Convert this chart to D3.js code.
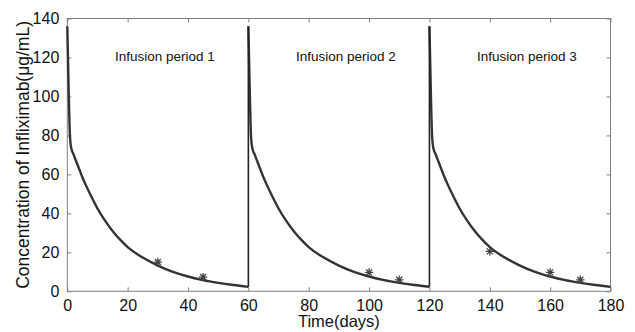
<!DOCTYPE html>
<html>
<head>
<meta charset="utf-8">
<script src="https://cdn.jsdelivr.net/npm/d3@7"></script>
<style>
  body { margin: 0; background: #fff; }
  svg { font-family: "Liberation Sans", Arial, sans-serif; }
</style>
</head>
<body>
<div id="chart"></div>
<script>
// concentration profile of one infusion period (days after infusion, ug/mL)
const profileDays = [0, 0.5, 0.9, 1.3, 2, 3, 4, 5, 6, 8, 10, 12.5, 15, 17.5, 20, 25, 30, 35, 40, 45, 50, 55, 60]
const profileConc = [136, 100, 79, 73.5, 70.5, 66.5, 62.5, 58.5, 55, 48.5, 42.5, 36.3, 31, 26.5, 22.7, 17.3, 13.2, 10, 7.6, 5.7, 4.3, 3.2, 2.3]

const periodStarts = [0, 60, 120]
const periodLabels = ["Infusion period 1", "Infusion period 2", "Infusion period 3"]

// observed concentrations (asterisks)
const obsDays = [30, 45, 100, 110, 140, 160, 170]
const obsConc = [15, 7.3, 9.7, 5.9, 20.5, 9.7, 5.9]

const xTicks = [0, 20, 40, 60, 80, 100, 120, 140, 160, 180]
const yTicks = [0, 20, 40, 60, 80, 100, 120, 140]

const width = 635
const height = 332
const margin = {top: 18.5, right: 24.5, bottom: 40.7, left: 67.3}

const svg = d3.select("#chart")
    .append("svg")
    .attr("width", width)
    .attr("height", height)

const x = d3.scaleLinear()
    .domain([0, 180])
    .range([margin.left, width - margin.right])

const y = d3.scaleLinear()
    .domain([0, 140])
    .range([height - margin.bottom, margin.top])

const axisColor = "#808080"

// frame
svg.append("rect")
    .attr("x", x(0))
    .attr("y", y(140))
    .attr("width", x(180) - x(0))
    .attr("height", y(0) - y(140))
    .attr("fill", "none")
    .attr("stroke", axisColor)
    .attr("stroke-width", 1)

function styleAxis(g) {
    g.select(".domain").remove()
    g.selectAll(".tick line").attr("stroke", axisColor)
    g.selectAll(".tick text")
        .attr("fill", "#111")
        .attr("font-size", 16)
        .attr("font-family", "Liberation Sans, Arial, sans-serif")
}

// bottom and top axes, ticks inward
svg.append("g")
    .attr("transform", `translate(0,${y(0)})`)
    .call(d3.axisBottom(x).tickValues(xTicks).tickSize(-4).tickPadding(8))
    .call(styleAxis)

svg.append("g")
    .attr("transform", `translate(0,${y(140)})`)
    .call(d3.axisTop(x).tickValues(xTicks).tickSize(-4).tickFormat(""))
    .call(styleAxis)

svg.append("g")
    .attr("transform", `translate(${x(0)},0)`)
    .call(d3.axisLeft(y).tickValues(yTicks).tickSize(-4).tickPadding(8))
    .call(styleAxis)

svg.append("g")
    .attr("transform", `translate(${x(180)},0)`)
    .call(d3.axisRight(y).tickValues(yTicks).tickSize(-4).tickFormat(""))
    .call(styleAxis)

// model curve over the three periods
const curveData = []
periodStarts.forEach(s => {
    profileDays.forEach((d, i) => curveData.push({t: s + d, c: profileConc[i], p: s}))
})

const line = d3.line()
    .x(d => x(d.t))
    .y(d => y(d.c))
    .curve(d3.curveMonotoneX)

periodStarts.forEach((s, i) => {
    const seg = curveData.filter(d => d.p == s)
    svg.append("path")
        .datum(seg)
        .attr("fill", "none")
        .attr("stroke", "#333")
        .attr("stroke-width", 2.4)
        .attr("d", line)
    // jump from the end of the previous period
    if (i > 0) {
        const prev = curveData.filter(d => d.p == periodStarts[i - 1])
        svg.append("line")
            .attr("x1", x(prev[prev.length - 1].t))
            .attr("y1", y(prev[prev.length - 1].c))
            .attr("x2", x(seg[0].t))
            .attr("y2", y(seg[0].c))
            .attr("stroke", "#222")
            .attr("stroke-width", 1.6)
    }
})

// observed points drawn as asterisks
const pts = svg.append("g")
    .selectAll("g")
    .data(obsDays)
    .join("g")
    .attr("transform", (d, i) => `translate(${x(d)},${y(obsConc[i])})`)

pts.append("path")
    .attr("d", "M0,-4.2V4.2M-4.2,0H4.2M-3,-3L3,3M-3,3L3,-3")
    .attr("stroke", "#444")
    .attr("stroke-width", 1.3)
    .attr("fill", "none")

// period labels
svg.append("g")
    .selectAll("text")
    .data(periodLabels)
    .join("text")
    .attr("x", (d, i) => x(periodStarts[i] + 30) + 7)
    .attr("y", 60.5)
    .attr("text-anchor", "middle")
    .attr("font-size", 13.5)
    .attr("fill", "#111")
    .text(d => d)

// axis titles
svg.append("text")
    .attr("x", x(90))
    .attr("y", 327)
    .attr("text-anchor", "middle")
    .attr("font-size", 16.5)
    .attr("fill", "#111")
    .text("Time(days)")

svg.append("text")
    .attr("transform", `translate(29,${(y(0) + y(140)) / 2}) rotate(-90)`)
    .attr("text-anchor", "middle")
    .attr("font-size", 17.5)
    .attr("fill", "#111")
    .text("Concentration of Infliximab(μg/mL)")
</script>
</body>
</html>
